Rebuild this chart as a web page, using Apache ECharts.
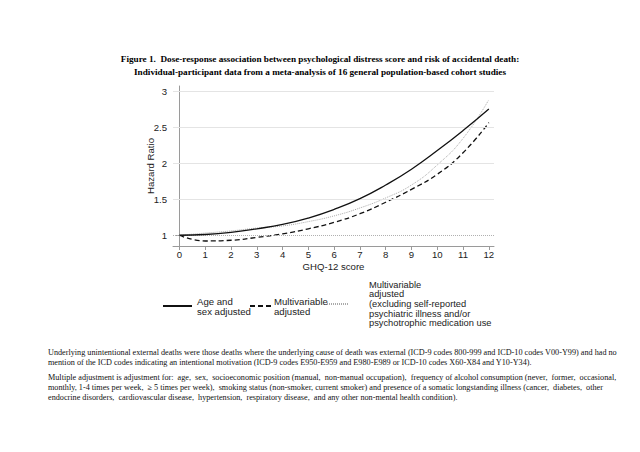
<!DOCTYPE html>
<html>
<head>
<meta charset="utf-8">
<script src="https://cdn.jsdelivr.net/npm/echarts@6/dist/echarts.min.js"></script>
<style>
html,body{margin:0;padding:0;background:#fff;}
#chart{width:640px;height:452px;}
</style>
</head>
<body>
<div id="chart"></div>
<script>
// ---- data ----
const scores = [0,1,2,3,4,5,6,7,8,9,10,11,12];
const ageSexAdjusted = [1.00,1.01,1.04,1.09,1.15,1.24,1.36,1.51,1.70,1.92,2.18,2.46,2.76];
const multivariableAdjusted = [1.00,0.92,0.93,0.97,1.02,1.09,1.18,1.30,1.46,1.64,1.85,2.15,2.57];
const multivariableExcluding = [1.00,1.03,1.06,1.10,1.13,1.19,1.27,1.38,1.52,1.70,1.98,2.35,2.89];
const xTicks = [0,1,2,3,4,5,6,7,8,9,10,11,12];
const yTicks = [1,1.5,2,2.5,3];
const gridValues = [1.5,2,2.5,3];
const refValue = 1;

const titleLines = [
 'Figure 1.  Dose-response association between psychological distress score and risk of accidental death:',
 'Individual-participant data from a meta-analysis of 16 general population-based cohort studies'
];
const legendNames = ['Age and\nsex adjusted','Multivariable\nadjusted','Multivariable\nadjusted\n(excluding self-reported\npsychiatric illness and/or\npsychotrophic medication use'];
const notes = [
 'Underlying unintentional external deaths were those deaths where the underlying cause of death was external (ICD-9 codes 800-999 and ICD-10 codes V00-Y99) and had no',
 'mention of the ICD codes indicating an intentional motivation (ICD-9 codes E950-E959 and E980-E989 or ICD-10 codes X60-X84 and Y10-Y34).',
 'Multiple adjustment is adjustment for:  age,  sex,  socioeconomic position (manual,  non-manual occupation),  frequency of alcohol consumption (never,  former,  occasional,',
 'monthly, 1-4 times per week,  \u2265 5 times per week),  smoking status (non-smoker, current smoker) and presence of a somatic longstanding illness (cancer,  diabetes,  other',
 'endocrine disorders,  cardiovascular disease,  hypertension,  respiratory disease,  and any other non-mental health condition).'
];
const noteY = [352, 362, 377, 387, 397];
const titleY = [59, 72];

const pair = (xs, ys) => xs.map((x, i) => [x, ys[i]]);
const sans = 'Liberation Sans, Arial, Helvetica, sans-serif';
const serif = 'Liberation Serif, Times New Roman, serif';
const fs = 9.6;

const chart = echarts.init(document.getElementById('chart'), null, {renderer: 'svg'});

const legendCommon = {
  itemHeight: 8, itemGap: 0, orient: 'horizontal',
  selectedMode: false,
  itemStyle: {opacity: 0},
  padding: 0
};
const legendText = (size, lh, padLeft) => ({fontFamily: sans, fontSize: size, color: '#222', lineHeight: lh, padding: [0,0,0,padLeft]});

const graphics = [];
titleLines.forEach((t, i) => graphics.push({
  type: 'text', x: 320, y: titleY[i],
  style: {text: t, font: 'bold 9.2px ' + serif, fill: '#000', textAlign: 'center', textVerticalAlign: 'middle'}
}));
notes.forEach((t, i) => graphics.push({
  type: 'text', x: 48, y: noteY[i],
  style: {text: t, font: '8.2px ' + serif, fill: '#111', textAlign: 'left', textVerticalAlign: 'middle'}
}));

chart.setOption({
  animation: false,
  backgroundColor: '#fff',
  legend: [
    Object.assign({}, legendCommon, {data: [legendNames[0]], left: 162, top: 296, itemWidth: 29, textStyle: legendText(fs, 10, 0)}),
    Object.assign({}, legendCommon, {data: [legendNames[1]], left: 249, top: 296, itemWidth: 23, textStyle: legendText(fs, 10, -4)}),
    Object.assign({}, legendCommon, {data: [legendNames[2]], left: 326, top: 280, itemWidth: 21, textStyle: legendText(9.3, 9.6, 16)})
  ],
  grid: {left: 173, right: 146, top: 86, bottom: 206, containLabel: false},
  xAxis: {
    type: 'value', min: -0.25, max: 12.2,
    name: 'GHQ-12 score', nameLocation: 'middle', nameGap: 15, nameMoveOverlap: false,
    nameTextStyle: {fontFamily: sans, fontSize: fs, color: '#222'},
    axisLine: {lineStyle: {color: '#9a9a9a', width: 1}},
    axisTick: {show: true, length: 4, customValues: xTicks, lineStyle: {color: '#9a9a9a'}},
    axisLabel: {customValues: xTicks, margin: 3, fontFamily: sans, fontSize: fs, color: '#222'},
    splitLine: {show: false}
  },
  yAxis: {
    type: 'value', min: 0.85, max: 3.08,
    name: 'Hazard Ratio', nameLocation: 'middle', nameGap: 18, nameRotate: 90, nameMoveOverlap: false,
    nameTextStyle: {fontFamily: sans, fontSize: fs, color: '#222'},
    axisLine: {show: true, lineStyle: {color: '#9a9a9a', width: 1}},
    axisTick: {show: true, length: 4, customValues: yTicks, lineStyle: {color: '#9a9a9a'}},
    axisLabel: {customValues: yTicks, margin: 6, fontFamily: sans, fontSize: fs, color: '#222'},
    splitLine: {show: false}
  },
  graphic: graphics,
  series: [
    {
      name: 'grid', type: 'line', data: [], silent: true,
      markLine: {
        symbol: 'none', silent: true, label: {show: false},
        data: gridValues.map(v => ({yAxis: v, lineStyle: {color: '#e4e4e4', width: 1, type: 'solid'}}))
          .concat([{yAxis: refValue, lineStyle: {color: '#b0b0b0', width: 1, type: [1,1]}}])
      }
    },
    {
      name: legendNames[2], type: 'line', smooth: true, symbol: 'none', showSymbol: false,
      data: pair(scores, multivariableExcluding),
      lineStyle: {color: '#aaaaaa', width: 1, type: [1,1]}, itemStyle: {color: '#aaaaaa'}, z: 3
    },
    {
      name: legendNames[1], type: 'line', smooth: true, symbol: 'none', showSymbol: false,
      data: pair(scores, multivariableAdjusted),
      lineStyle: {color: '#111', width: 1.3, type: [5,3]}, itemStyle: {color: '#111'}, z: 4
    },
    {
      name: legendNames[0], type: 'line', smooth: true, symbol: 'none', showSymbol: false,
      data: pair(scores, ageSexAdjusted),
      lineStyle: {color: '#111', width: 1.3, type: 'solid'}, itemStyle: {color: '#111'}, z: 5
    }
  ]
});
</script>
</body>
</html>
